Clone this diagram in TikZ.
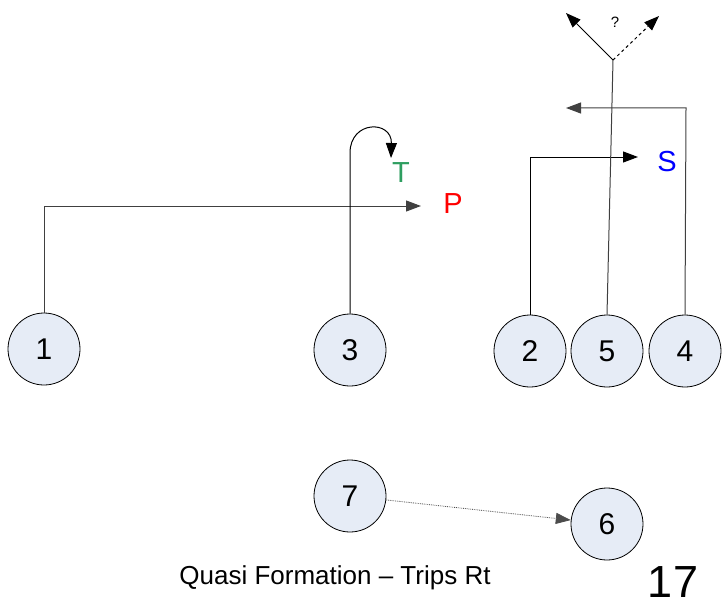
\documentclass[tikz,border=0pt]{standalone}
\usepackage{fontspec}
\setmainfont{Liberation Sans}
\usetikzlibrary{arrows.meta}
\definecolor{circfill}{RGB}{230,236,246}
\definecolor{tgreen}{RGB}{46,158,96}
\begin{document}
\begin{tikzpicture}[x=1pt,y=-1pt,
  player/.style={circle,draw=black,fill=circfill,minimum size=72pt,inner sep=0pt,font=\fontsize{30}{32}\selectfont,line width=0.8pt},
  route/.style={draw=black!75,line width=1pt},
  tip/.style={-{Triangle[length=15pt,width=11pt]}},
  lbl/.style={font=\fontsize{29}{31}\selectfont,inner sep=0pt}]
\useasboundingbox (0,0) rectangle (722,607);
\node[player] (c1) at (44,349) {1};
\node[player] (c3) at (350,350) {3};
\node[player] (c2) at (530,351) {2};
\node[player] (c5) at (607,351) {5};
\node[player] (c4) at (685,351) {4};
\node[player] (c7) at (350,496) {7};
\node[player] (c6) at (607,524) {6};
% labels
\node[lbl,text=red] (P) at (453,204) {P};
\node[lbl,text=tgreen] (T) at (401,173) {T};
\node[lbl,text=blue] (S) at (667,162) {S};
\node[font=\fontsize{15}{16}\selectfont] (q) at (615,22) {?};
\node[font=\fontsize{26}{28}\selectfont] (cap) at (335,578) {Quasi Formation – Trips Rt};
\node[font=\fontsize{45}{46}\selectfont,anchor=base,inner sep=0pt] (num) at (673,597) {17};
% coordinates
\coordinate (p1) at (44,206);
\coordinate (p1e) at (421,206);
\coordinate (t1) at (350,153);
\coordinate (t1e) at (391,158);
\coordinate (s1) at (530,157);
\coordinate (s1e) at (638,157);
\coordinate (y0) at (613,60);
\coordinate (yl) at (566,13);
\coordinate (yr) at (659,16);
\coordinate (f1) at (686,108);
\coordinate (f1e) at (566,108);
% routes
\draw[route,tip] (c1.north) -- (p1) -- (p1e);
\draw[route,tip,black] (c3.north) -- (t1) .. controls (350,120) and (392,120) .. (t1e);
\draw[route,tip,black] (c2.north) -- (s1) -- (s1e);
\draw[route] (c5.north) -- (y0);
\draw[route,tip,black] (y0) -- (yl);
\draw[route,tip,black,dashed] (y0) -- (yr);
\draw[route,tip] (c4.north) -- (f1) -- (f1e);
\draw[black!70,densely dotted,line width=0.8pt,-{Triangle[length=15pt,width=11pt]}] (c7) -- (c6);
\end{tikzpicture}
\end{document}
